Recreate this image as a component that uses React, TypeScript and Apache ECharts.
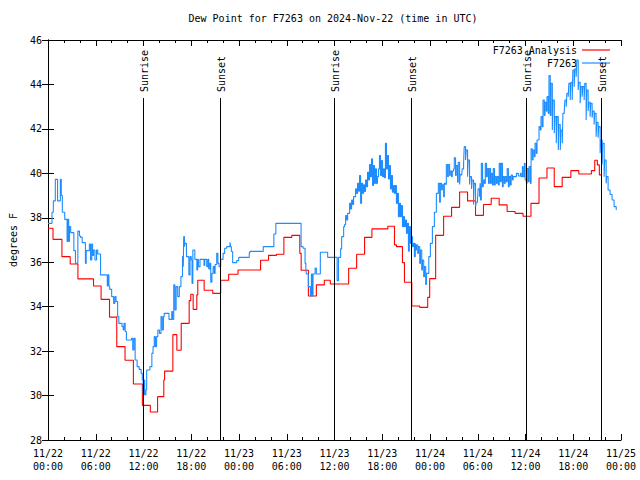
import { useEffect, useRef } from 'react';
import * as echarts from 'echarts';

const FONT = '"DejaVu Sans Mono", "Liberation Mono", monospace';
const TITLE = 'Dew Point for F7263 on 2024-Nov-22 (time in UTC)';
const Y_NAME = 'degrees F';
const ANALYSIS_NAME = 'F7263 Analysis';
const OBS_NAME = 'F7263';

const Y_MIN = 28;
const Y_MAX = 46;
const Y_STEP = 2;
const X_MIN = 0;
const X_MAX = 72;
const X_STEP = 6;

const dayLabels = ['11/22', '11/23', '11/24', '11/25'];
const hourLabels = ['00:00', '06:00', '12:00', '18:00'];

const sunHours = [11.9, 21.62, 35.97, 45.67, 60.0, 69.52];
const sunLabels = ['Sunrise', 'Sunset', 'Sunrise', 'Sunset', 'Sunrise', 'Sunset'];

// Analysis (hourly steps): [hours since 11/22 00:00, degF]
const analysisDay1: [number, number][] = [
  [0, 37.53], [0.63, 37.03], [1.75, 36.25], [2.79, 35.92], [3.76, 35.25], [5.72, 34.93],
  [6.67, 34.33], [7.73, 33.53], [8.64, 32.2], [9.68, 31.59], [10.73, 30.52], [11.86, 29.56],
  [12.86, 29.26], [13.77, 29.95], [14.55, 30.7], [14.65, 31.1], [15.69, 32.74], [16.19, 32.04],
  [16.74, 33.25], [17.74, 34.27], [17.94, 34.56], [18.24, 33.88], [18.7, 34.53], [18.82, 35.19],
  [19.62, 34.74], [20.7, 34.6], [21.7, 35.19], [22.7, 35.46], [23.88, 35.65],
];
const analysisDay2: [number, number][] = [
  [26.71, 36.09], [27.71, 36.31], [28.71, 36.36], [29.64, 37.12], [30.64, 37.21], [31.64, 36.4],
  [31.81, 35.64], [32.72, 34.48], [33.72, 34.98], [34.72, 35.19], [35.47, 35.02], [37.78, 35.73],
  [38.78, 36.36], [39.78, 37.12], [40.7, 37.5], [42.7, 37.62], [43.54, 36.78], [43.79, 36.7],
  [44.54, 35.98], [44.79, 35.1], [45.71, 34.03], [46.71, 33.97], [47.71, 34.42], [47.96, 35.26],
];
const analysisDay3: [number, number][] = [
  [48.71, 37.21], [49.71, 38.07], [50.71, 38.47], [51.72, 39.16], [52.72, 38.76], [53.72, 38.11],
  [54.72, 38.6], [55.69, 38.88], [56.69, 38.58], [57.69, 38.28], [58.69, 38.2], [59.69, 38.07],
  [60.69, 38.65], [61.7, 39.79], [62.7, 40.24], [63.61, 39.4], [64.61, 39.82], [65.7, 40.12],
  [66.7, 39.97], [68.28, 40.12], [68.7, 40.59], [69.03, 40.38], [69.28, 39.93], [69.62, 39.93],
];

// Observations: [hours since 11/22 00:00, degF]
const obsDay1: [number, number][] = [
  [0, 37.75], [0.5, 38.25], [0.67, 38.76], [0.92, 39.73], [1.2, 38.76], [1.55, 39.73], [1.67, 39.0],
  [1.8, 38.25], [2.1, 37.93], [2.4, 36.94], [2.5, 37.93], [2.6, 36.94], [2.7, 37.6], [2.85, 37.33],
  [3.25, 36.52], [3.45, 35.95], [3.75, 37.4], [3.95, 37.18], [4.1, 37.12], [4.3, 36.88], [4.7, 35.95],
  [4.8, 36.52], [5.2, 36.82], [5.35, 36.1], [5.5, 36.82], [5.6, 36.3], [5.72, 36.55], [5.9, 36.1],
  [6.1, 36.55], [6.25, 36.37], [6.6, 35.43], [7.45, 34.93], [7.55, 35.43], [7.65, 34.93], [7.75, 34.78],
  [8.0, 34.45], [8.25, 34.15], [8.4, 34.45], [8.55, 34.23], [8.75, 33.55], [8.9, 33.25], [9.3, 33.1],
  [9.45, 32.95], [9.55, 33.25], [9.7, 32.88], [9.85, 32.5], [10.5, 32.58], [10.65, 32.05], [10.8, 32.58],
  [10.95, 31.6], [11.2, 31.3], [11.45, 31.18], [11.7, 31.0], [11.85, 30.7], [11.95, 30.1], [12.05, 30.7],
  [12.15, 30.03], [12.3, 30.25], [12.4, 31.15], [12.8, 31.3], [13.05, 31.9], [13.2, 32.2], [13.35, 32.65],
  [13.5, 32.2], [13.65, 32.65], [13.8, 32.95], [14.0, 32.8], [14.2, 33.55], [14.35, 32.95], [14.5, 33.55],
  [14.6, 33.7], [15.2, 33.43], [15.55, 33.78], [15.65, 33.43], [15.8, 34.98], [15.95, 33.85], [16.1, 34.9],
  [16.3, 34.45], [16.5, 34.9], [16.7, 35.35], [16.9, 36.25], [17.0, 35.8], [17.05, 37.15], [17.15, 36.7],
  [17.2, 36.85], [17.4, 36.25], [17.7, 35.43], [17.85, 36.25], [18.0, 36.1], [18.1, 35.05], [18.2, 36.55],
  [18.45, 36.13], [18.7, 35.65], [18.8, 36.13], [18.9, 35.8], [19.1, 36.13], [19.6, 35.85], [19.7, 36.13],
  [19.95, 35.8], [20.1, 36.13], [20.2, 35.7], [20.35, 35.95], [20.45, 35.1], [20.6, 35.5], [20.75, 35.8],
  [20.9, 35.5], [21.0, 35.9], [21.2, 36.4], [21.35, 35.95], [21.5, 35.8], [21.7, 36.13], [22.0, 36.4],
  [22.2, 36.63], [22.45, 36.7], [22.87, 36.9], [22.95, 36.7], [23.04, 36.48], [23.2, 35.98], [23.7, 36.07],
  [23.96, 36.22],
];
const obsDay2: [number, number][] = [
  [25.29, 36.43], [25.38, 36.49], [27.05, 36.7], [28.38, 37.27], [28.63, 37.75], [31.8, 36.7], [32.05, 36.63],
  [32.3, 35.95], [32.4, 35.65], [32.47, 35.47], [32.72, 34.9], [32.97, 34.48], [33.1, 35.47], [33.2, 34.48],
  [33.3, 35.47], [33.56, 35.74], [33.72, 35.47], [34.22, 36.45], [35.14, 36.22], [36.33, 35.17], [36.5, 36.22],
  [36.77, 36.6], [36.9, 37.15], [37.15, 37.6], [37.27, 37.7], [37.4, 38.1], [37.52, 37.9], [37.65, 38.2],
  [37.78, 38.2], [37.9, 38.65], [38.03, 38.4], [38.15, 38.8], [38.28, 38.6], [38.4, 38.95], [38.53, 38.95],
  [38.65, 39.3], [38.78, 39.1], [38.9, 39.55], [39.03, 39.2], [39.15, 39.9], [39.28, 38.65], [39.4, 39.55],
  [39.53, 39.1], [39.65, 39.48], [39.78, 39.18], [39.9, 39.7], [40.03, 39.4], [40.15, 40.05], [40.28, 39.7],
  [40.4, 40.4], [40.53, 39.85], [40.65, 40.65], [40.78, 39.45], [40.9, 40.35], [41.03, 39.55], [41.15, 40.2],
  [41.28, 39.55], [41.4, 39.85], [41.53, 40.2], [41.65, 40.8], [41.78, 39.9], [41.9, 40.57], [42.03, 39.85],
  [42.15, 40.2], [42.28, 39.8], [42.4, 41.35], [42.53, 40.2], [42.65, 40.8], [42.78, 39.75], [42.9, 40.35],
  [43.03, 39.3], [43.15, 39.9], [43.28, 39.15], [43.4, 39.45], [43.53, 39.1], [43.65, 39.45], [43.78, 38.65],
  [43.9, 39.1], [44.03, 38.05], [44.15, 38.65], [44.29, 38.05], [44.4, 38.55], [44.54, 37.6], [44.65, 38.05],
  [44.79, 37.6], [44.9, 37.9], [45.04, 37.3], [45.15, 37.75], [45.29, 36.5], [45.4, 37.6], [45.54, 36.85],
  [45.65, 37.15], [45.79, 36.7], [45.9, 36.85], [46.04, 36.25], [46.15, 36.85], [46.21, 36.55], [46.3, 36.78],
  [46.46, 36.4], [46.55, 36.7], [46.71, 35.95], [46.8, 36.55], [46.96, 35.65], [47.05, 36.1], [47.21, 35.35],
  [47.3, 35.8], [47.46, 35.0], [47.55, 35.5], [47.71, 35.5], [47.85, 36.25],
];
const obsDay3: [number, number][] = [
  [47.96, 36.25], [48.05, 36.85], [48.21, 36.85], [48.3, 37.6], [48.46, 37.6], [48.55, 38.25], [48.71, 38.25],
  [48.8, 39.1], [48.96, 39.1], [49.05, 39.55], [49.21, 38.7], [49.3, 39.55], [49.46, 39.25], [49.55, 39.48],
  [49.71, 38.95], [49.8, 39.55], [49.96, 39.5], [50.05, 40.4], [50.21, 39.85], [50.3, 40.4], [50.46, 39.9],
  [50.55, 40.1], [50.71, 39.85], [50.8, 40.1], [50.96, 40.2], [51.05, 40.7], [51.21, 39.9], [51.3, 40.35],
  [51.46, 39.6], [51.55, 40.5], [51.72, 39.5], [51.8, 39.95], [51.97, 39.9], [52.05, 40.2], [52.22, 40.45],
  [52.3, 41.2], [52.47, 40.6], [52.55, 41.05], [52.72, 39.85], [52.8, 40.6], [52.97, 39.5], [53.05, 39.85],
  [53.22, 39.3], [53.3, 39.7], [53.47, 38.6], [53.55, 39.55], [53.72, 38.5], [53.8, 38.7], [53.97, 38.85],
  [54.05, 39.3], [54.22, 38.95], [54.3, 39.55], [54.35, 38.8], [54.45, 40.45], [54.6, 39.4], [54.7, 39.7],
  [54.85, 39.55], [54.95, 40.45], [55.1, 39.85], [55.2, 40.22], [55.35, 39.55], [55.45, 40.22], [55.6, 39.55],
  [55.7, 40.0], [55.85, 39.48], [55.95, 40.22], [56.1, 39.48], [56.2, 39.85], [56.35, 39.55], [56.45, 39.85],
  [56.6, 39.48], [56.7, 40.45], [56.85, 39.62], [56.95, 40.45], [57.1, 39.4], [57.2, 39.85], [57.35, 39.55],
  [57.45, 39.85], [57.6, 39.62], [57.7, 40.22], [57.85, 39.4], [57.95, 39.85], [58.1, 39.48], [58.2, 39.92],
  [58.36, 39.7], [58.45, 39.85], [58.86, 40.0], [59.1, 39.88], [59.36, 40.0], [59.45, 39.85], [59.61, 40.3],
  [59.7, 39.85], [59.86, 40.45], [59.95, 39.7], [60.11, 39.55], [60.2, 40.22], [60.36, 39.62], [60.45, 40.3],
  [60.61, 39.55], [60.7, 41.1], [60.86, 40.6], [60.95, 41.05], [61.11, 40.75], [61.2, 41.35], [61.36, 40.9],
  [61.45, 41.5], [61.61, 41.5], [61.7, 42.1], [61.86, 41.95], [61.95, 42.55], [62.11, 42.1], [62.2, 43.3],
  [62.36, 42.6], [62.45, 43.2], [62.61, 42.8], [62.7, 43.45], [62.86, 42.7], [62.95, 44.4], [63.11, 42.6],
  [63.2, 44.05], [63.37, 41.95], [63.45, 43.3], [63.62, 41.8], [63.7, 42.55], [63.87, 41.35], [63.95, 42.55],
  [64.12, 41.05], [64.2, 42.2], [64.37, 41.05], [64.45, 41.95], [64.62, 41.35], [64.7, 42.7], [64.87, 42.8],
  [64.95, 43.3], [65.12, 43.0], [65.2, 43.6], [65.37, 43.45], [65.45, 44.05], [65.62, 43.3], [65.7, 44.1],
  [65.87, 43.3], [65.95, 44.65], [66.12, 43.9], [66.2, 44.7], [66.37, 44.35], [66.45, 45.1], [66.62, 43.75],
  [66.7, 44.1], [66.87, 43.15], [66.95, 43.9], [67.12, 43.45], [67.2, 43.9], [67.37, 43.3], [67.45, 44.05],
  [67.62, 42.4], [67.7, 43.75], [67.87, 42.8], [67.95, 43.2], [68.12, 42.55], [68.2, 43.15], [68.37, 42.5],
  [68.45, 42.8], [68.62, 42.2], [68.7, 42.7], [68.87, 41.65], [68.95, 42.3], [69.12, 41.6], [69.2, 42.1],
  [69.38, 40.9], [69.45, 41.5], [69.63, 40.4], [69.7, 41.35], [69.88, 39.85], [69.95, 40.6], [70.13, 39.55],
  [70.2, 39.85], [70.38, 39.25], [70.63, 39.05], [70.88, 38.8], [71.13, 38.5], [71.4, 38.35],
];

const analysisData = [...analysisDay1, ...analysisDay2, ...analysisDay3];
const obsData = [...obsDay1, ...obsDay2, ...obsDay3];

const RED = '#ff0000';
const BLUE = '#1e8cff';
const txt = { color: '#000', fontFamily: FONT, fontSize: 10 };

function xLabel(v: number): string {
  const d = Math.floor(v / 24 + 1e-6);
  const h = Math.round((v - d * 24) / 6);
  return `${dayLabels[d]}\n${hourLabels[h]}`;
}

const axisLine = { show: true, lineStyle: { color: '#000', width: 1 } };

function legendFor(name: string, top: number, color: string) {
  return {
    data: [{ name, icon: 'rect', itemStyle: { color } }],
    right: 30,
    top,
    align: 'right',
    padding: 0,
    itemWidth: 28,
    itemHeight: 1.2,
    selectedMode: false,
    textStyle: { ...txt, lineHeight: 12 },
  };
}

export default function App() {
  const ref = useRef<HTMLDivElement>(null);
  useEffect(() => {
    const chart = echarts.init(ref.current!, null, { renderer: 'svg' });
    const xBase = {
      type: 'value' as const,
      min: X_MIN,
      max: X_MAX,
      interval: X_STEP,
      axisLine,
      axisTick: { show: true, inside: true, length: 6, lineStyle: { color: '#000' } },
      minorTick: { show: true, splitNumber: 3, length: 3, lineStyle: { color: '#000' } },
      splitLine: { show: false },
    };
    const yBase = {
      type: 'value' as const,
      min: Y_MIN,
      max: Y_MAX,
      interval: Y_STEP,
      axisLine,
      axisTick: { show: true, inside: true, length: 6, lineStyle: { color: '#000' } },
      splitLine: { show: false },
    };
    chart.setOption({
      animation: false,
      backgroundColor: '#fff',
      textStyle: { fontFamily: FONT },
      title: {
        text: TITLE,
        left: 333,
        top: 13,
        textAlign: 'center',
        padding: 0,
        textStyle: { ...txt, fontWeight: 'normal' },
      },
      grid: { left: 46, right: 19, top: 40, bottom: 40, containLabel: false },
      legend: [legendFor(ANALYSIS_NAME, 44, RED), legendFor(OBS_NAME, 57, BLUE)],
      xAxis: [
        {
          ...xBase,
          position: 'bottom',
          axisLabel: { ...txt, margin: 7, lineHeight: 13, formatter: xLabel },
        },
        { ...xBase, position: 'top', axisLabel: { show: false } },
      ],
      yAxis: [
        {
          ...yBase,
          position: 'left',
          axisLabel: { ...txt, margin: 6 },
          name: Y_NAME,
          nameLocation: 'middle',
          nameRotate: 90,
          nameGap: 30,
          nameTextStyle: txt,
        },
        { ...yBase, position: 'right', axisLabel: { show: false } },
      ],
      series: [
        {
          name: ANALYSIS_NAME,
          type: 'line',
          step: 'end',
          data: analysisData,
          symbol: 'none',
          showSymbol: false,
          color: RED,
          lineStyle: { color: RED, width: 1.1 },
          z: 3,
        },
        {
          name: OBS_NAME,
          type: 'line',
          step: 'end',
          data: obsData,
          symbol: 'none',
          showSymbol: false,
          color: BLUE,
          lineStyle: { color: BLUE, width: 1.1 },
          z: 4,
        },
        {
          name: 'sun',
          type: 'custom',
          silent: true,
          clip: false,
          z: 5,
          data: sunHours.map((h) => [h, Y_MIN]),
          encode: { x: 0, y: 1 },
          renderItem: (params: any, api: any) => {
            const pt = api.coord([api.value(0), Y_MIN]);
            const cs = params.coordSys;
            const x = Math.round(pt[0]) + 0.5;
            return {
              type: 'group',
              children: [
                {
                  type: 'line',
                  shape: { x1: x, y1: cs.y + cs.height, x2: x, y2: cs.y + 58 },
                  style: { stroke: '#000', lineWidth: 1 },
                },
                {
                  type: 'text',
                  x: x + 1,
                  y: cs.y + 52,
                  rotation: Math.PI / 2,
                  style: {
                    text: sunLabels[params.dataIndex],
                    fill: '#000',
                    fontFamily: FONT,
                    fontSize: 10,
                    align: 'left',
                    verticalAlign: 'middle',
                  },
                },
              ],
            };
          },
        },
      ],
    });
    return () => chart.dispose();
  }, []);
  return (
    <div
      ref={ref}
      style={{ position: 'absolute', left: 0, top: 0, width: 640, height: 480, background: '#fff' }}
    />
  );
}
